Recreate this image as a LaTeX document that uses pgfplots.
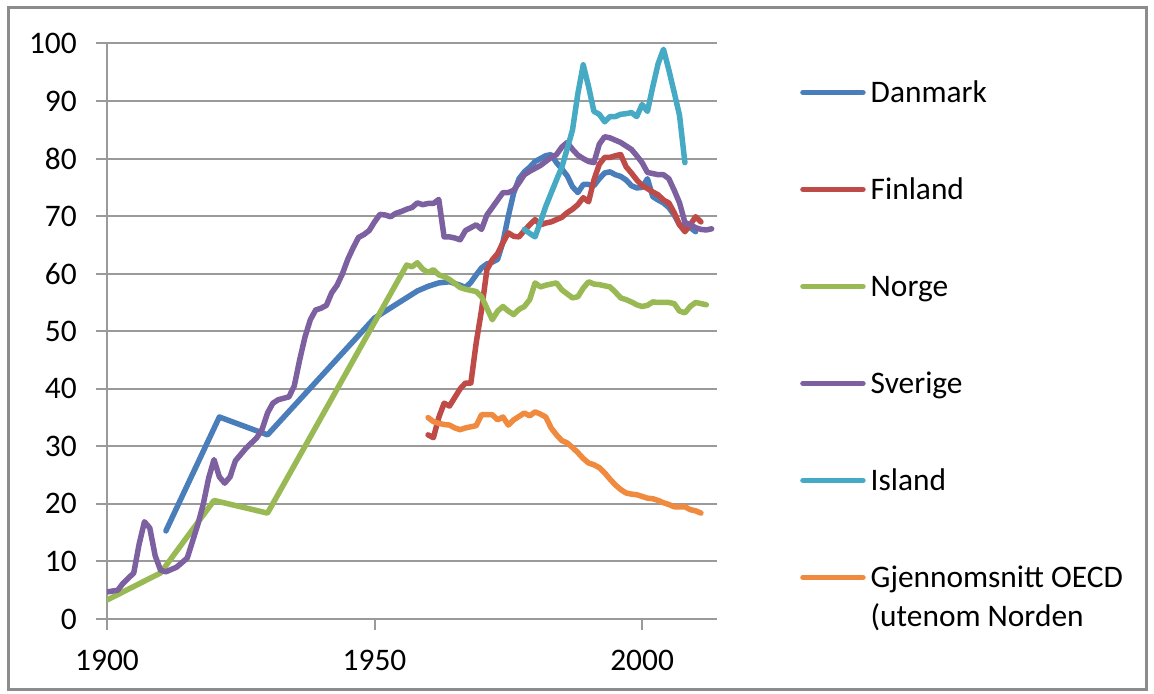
\documentclass[border=0pt]{standalone}
\usepackage{pgfplots}
\pgfplotsset{compat=1.18}
\usepackage{fontspec}
\setmainfont{Carlito}
\definecolor{cDK}{HTML}{4A7EBB}
\definecolor{cFI}{HTML}{BE4B48}
\definecolor{cNO}{HTML}{98B954}
\definecolor{cSE}{HTML}{7D60A0}
\definecolor{cIS}{HTML}{46AAC5}
\definecolor{cOE}{HTML}{F08A3E}
\definecolor{gridgray}{HTML}{9A9A9A}
\definecolor{bordergray}{HTML}{8C8C8C}
\newcommand{\chartfont}{\fontsize{31.5}{38.3}\selectfont}
\begin{document}
\begin{tikzpicture}
\path[use as bounding box] (0bp,0bp) rectangle (1154bp,694bp);
\draw[bordergray, line width=3bp] (8.5bp,4bp) rectangle (1146bp,686bp);
\begin{axis}[
  at={(107bp,75bp)}, anchor=south west,
  scale only axis, width=610bp, height=575.5bp,
  xmin=1900, xmax=2014, ymin=0, ymax=100,
  axis lines=left,
  axis line style={draw=gridgray, line width=2bp, -},
  xtick={1900,1950,2000}, ytick={0,10,...,100},
  major tick length=11bp, tick align=outside,
  tick style={draw=gridgray, line width=2bp},
  ymajorgrids, grid style={draw=gridgray, line width=2bp},
  /pgf/number format/assume math mode=true,
  /pgf/number format/set thousands separator={},
  ticklabel style={font=\chartfont, text=black},
  xticklabel style={inner sep=0pt, anchor=north, yshift=-20bp},
  yticklabel style={inner sep=0pt, anchor=east, xshift=-19bp},
  every axis plot/.append style={line width=5.5bp, line join=round, line cap=round},
  legend cell align=left,
  legend style={at={(1.1361,0.9336)}, anchor=north west, draw=none, fill=none,
    inner sep=0pt, font=\chartfont, row sep=76bp, column sep=5bp,
    nodes={inner sep=0pt, text height=21bp, text depth=0bp}},
  legend image code/.code={\draw[#1, line cap=round] (0bp,0bp) -- (60bp,0bp);},
]
\addplot[cDK] coordinates {
(1911,15.3) (1921,35.1) (1930,32) (1950,52.3) (1958,57) (1960,57.8) (1962,58.4)
(1964,58.6) (1966,58) (1967,57.6) (1968,58.5) (1969,59.8) (1970,61) (1971,61.7)
(1972,62) (1973,62.5) (1974,65.5) (1975,70) (1976,74) (1977,76.5) (1978,77.7)
(1979,78.5) (1980,79.5) (1981,80) (1982,80.5) (1983,80.7) (1984,79.3) (1985,78.2)
(1986,77) (1987,75.1) (1988,74.1) (1989,75.5) (1990,75.5) (1991,75.3) (1992,76.5)
(1993,77.5) (1994,77.7) (1995,77.2) (1996,76.9) (1997,76.3) (1998,75.3) (1999,74.9)
(2000,75) (2001,76.5) (2002,73.4) (2003,72.8) (2004,72.3) (2005,71.5) (2006,70.2)
(2007,68.5) (2008,68.2) (2009,68) (2010,67.3)};
\addlegendentry{Danmark}
\addplot[cFI] coordinates {
(1960,32) (1961,31.5) (1962,35) (1963,37.5) (1964,37) (1965,38.5) (1966,40)
(1967,41) (1968,41) (1969,48) (1970,53.7) (1971,60.7) (1972,62.4) (1973,63.5)
(1974,65.4) (1975,67.1) (1976,66.5) (1977,66.4) (1978,67.5) (1979,68.5) (1980,69.4)
(1981,68.5) (1982,68.8) (1983,69) (1984,69.4) (1985,69.8) (1986,70.6) (1987,71.2)
(1988,72) (1989,73.2) (1990,72.5) (1991,76.3) (1992,79) (1993,80.2) (1994,80.2)
(1995,80.5) (1996,80.7) (1997,78.6) (1998,77.5) (1999,76.3) (2000,75.3) (2001,74.8)
(2002,74.2) (2003,73.7) (2004,72.8) (2005,72.3) (2006,70.6) (2007,68.5) (2008,67.3)
(2009,68.5) (2010,69.9) (2011,69)};
\addlegendentry{Finland}
\addplot[cNO] coordinates {
(1900,3.3) (1910,8) (1920,20.6) (1930,18.4) (1956,61.5) (1957,61.2) (1958,61.9)
(1959,60.8) (1960,60.2) (1961,60.7) (1962,59.8) (1963,59.5) (1964,59) (1965,58.3)
(1966,57.6) (1967,57.3) (1968,57.1) (1969,56.9) (1970,56) (1971,54) (1972,52)
(1973,53.5) (1974,54.3) (1975,53.5) (1976,52.9) (1977,53.8) (1978,54.3) (1979,55.5)
(1980,58.4) (1981,57.7) (1982,58) (1983,58.2) (1984,58.4) (1985,57.2) (1986,56.5)
(1987,55.8) (1988,56) (1989,57.5) (1990,58.6) (1991,58.2) (1992,58.1) (1993,57.9)
(1994,57.7) (1995,56.8) (1996,55.8) (1997,55.5) (1998,55.1) (1999,54.6) (2000,54.3)
(2001,54.5) (2002,55.1) (2003,55) (2004,55) (2005,55) (2006,54.8) (2007,53.5)
(2008,53.2) (2009,54.3) (2010,55) (2011,54.8) (2012,54.6)};
\addlegendentry{Norge}
\addplot[cSE] coordinates {
(1900,4.7) (1902,5) (1903,6.2) (1905,8) (1906,13) (1907,16.9) (1908,15.8) (1909,11)
(1910,8.5) (1911,8.2) (1913,9) (1915,10.6) (1917,16.5) (1918,20) (1919,24.5)
(1920,27.7) (1921,24.7) (1922,23.6) (1923,24.7) (1924,27.5) (1926,29.7) (1928,31.5)
(1929,33) (1930,35.8) (1931,37.5) (1932,38.1) (1934,38.6) (1935,40.5) (1936,45)
(1937,49) (1938,52) (1939,53.7) (1940,54) (1941,54.5) (1942,56.7) (1943,58) (1944,60)
(1945,62.5) (1946,64.5) (1947,66.3) (1948,66.8) (1949,67.5) (1950,69) (1951,70.3)
(1952,70.2) (1953,69.9) (1954,70.5) (1955,70.8) (1956,71.2) (1957,71.5) (1958,72.3)
(1959,72) (1960,72.2) (1961,72.2) (1962,72.9) (1963,66.4) (1964,66.4) (1965,66.2)
(1966,65.9) (1967,67.5) (1968,68) (1969,68.5) (1970,67.7) (1971,70.2) (1972,71.5)
(1973,72.8) (1974,74.1) (1975,74.1) (1976,74.5) (1977,75.8) (1978,77.2) (1979,77.8)
(1980,78.3) (1981,78.8) (1982,79.5) (1983,80.2) (1984,80.7) (1985,82) (1986,82.8)
(1987,81.6) (1988,80.6) (1989,80) (1990,79.5) (1991,79.3) (1992,82.5) (1993,83.8)
(1994,83.6) (1995,83.2) (1996,82.8) (1997,82.2) (1998,81.6) (1999,80.5) (2000,79.3)
(2001,77.6) (2002,77.4) (2003,77.2) (2004,77.2) (2005,76.5) (2006,74.5) (2007,72.3)
(2008,68.9) (2009,68.5) (2010,68) (2011,67.7) (2012,67.6) (2013,67.8)};
\addlegendentry{Sverige}
\addplot[cIS] coordinates {
(1978,67.7) (1979,67) (1980,66.4) (1981,69) (1982,71.7) (1983,74) (1984,76.3)
(1985,78.5) (1986,81.7) (1987,85) (1988,91.3) (1989,96.3) (1990,92.5) (1991,88.2)
(1992,87.7) (1993,86.4) (1994,87.3) (1995,87.3) (1996,87.7) (1997,87.8) (1998,88)
(1999,87.3) (2000,89.4) (2001,88.2) (2002,92.5) (2003,96.5) (2004,99) (2005,95.4)
(2006,91.5) (2007,87.5) (2008,79.3)};
\addlegendentry{Island}
\addplot[cOE] coordinates {
(1960,35) (1961,34.3) (1962,34) (1963,33.8) (1964,33.7) (1965,33.2) (1966,32.9)
(1967,33.2) (1968,33.4) (1969,33.6) (1970,35.5) (1971,35.5) (1972,35.5) (1973,34.6)
(1974,35.1) (1975,33.7) (1976,34.6) (1977,35.2) (1978,35.8) (1979,35.3) (1980,36)
(1981,35.6) (1982,35.1) (1983,33.2) (1984,32) (1985,31) (1986,30.6) (1987,29.8)
(1988,28.9) (1989,27.9) (1990,27.1) (1991,26.8) (1992,26.3) (1993,25.4) (1994,24.3)
(1995,23.3) (1996,22.5) (1997,21.9) (1998,21.7) (1999,21.6) (2000,21.3) (2001,21)
(2002,20.9) (2003,20.6) (2004,20.2) (2005,19.9) (2006,19.5) (2007,19.5) (2008,19.5)
(2009,19) (2010,18.8) (2011,18.4)};
\addlegendentry{\begin{tabular}[t]{@{}l@{}}Gjennomsnitt OECD\\(utenom Norden\end{tabular}}
\end{axis}
\end{tikzpicture}
\end{document}
